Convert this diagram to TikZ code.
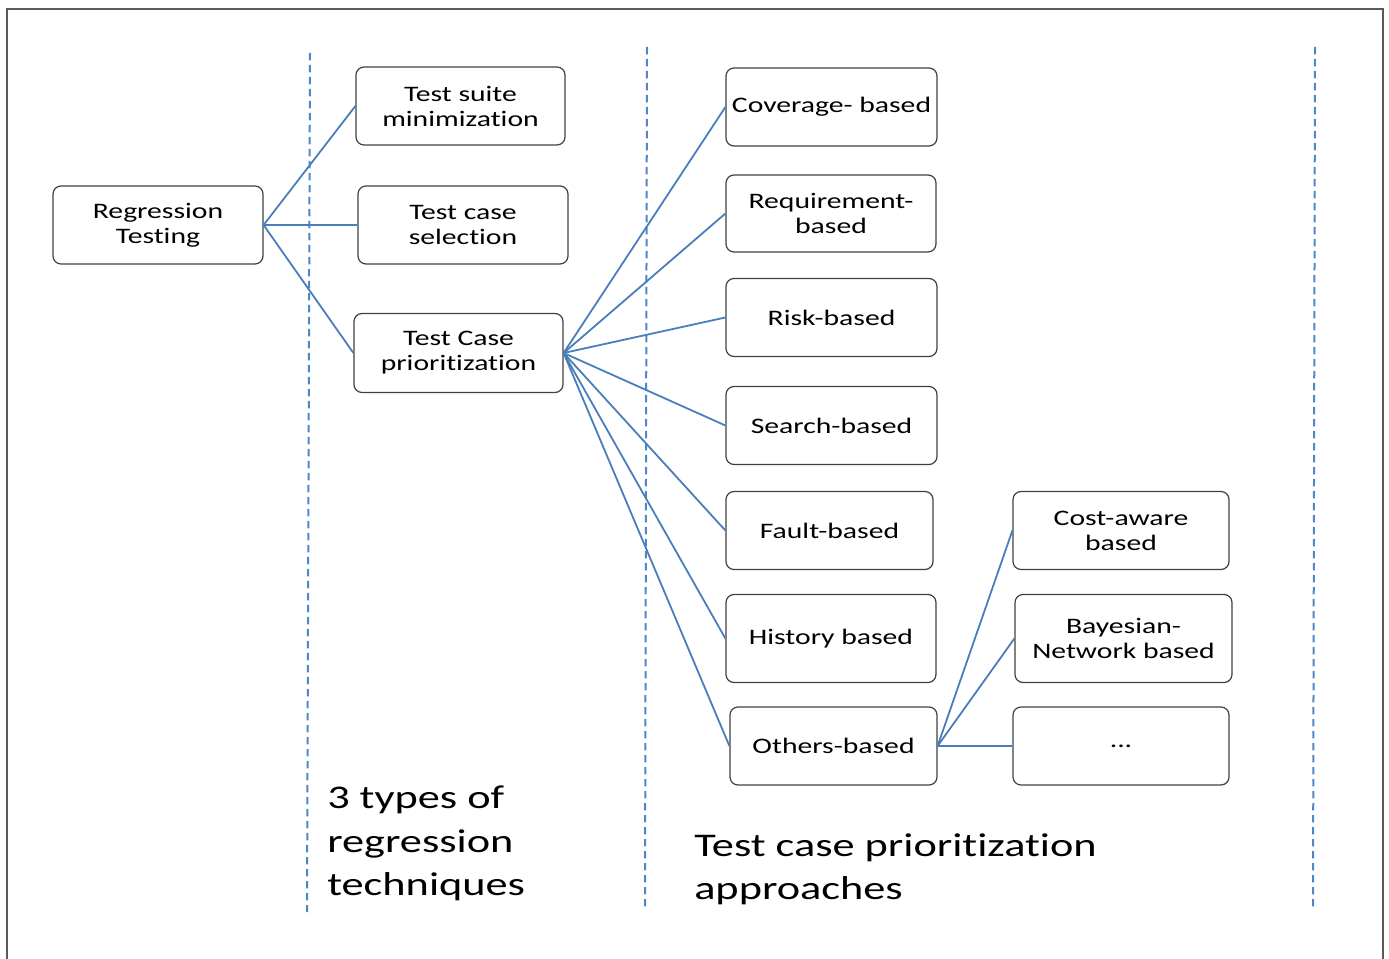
\documentclass[tikz,border=0pt]{standalone}
\usepackage{fontspec}
\setmainfont{Carlito}[FakeStretch=1.34, Ligatures={NoCommon}]
\definecolor{lineblue}{HTML}{4A7EBB}
\definecolor{dashblue}{HTML}{4F86C6}
\definecolor{boxgray}{HTML}{404040}
\definecolor{framegray}{HTML}{5A5A5A}
\begin{document}
\begin{tikzpicture}[x=0.75pt,y=-0.75pt,
  box/.style 2 args={draw=boxgray, line width=0.9pt, rounded corners=6pt, inner sep=0pt,
    minimum width=#1*0.75pt, minimum height=#2*0.75pt, align=center,
    font=\fontsize{16.6}{18.75}\selectfont},
  link/.style={draw=lineblue, line width=1.35pt},
  sep/.style={draw=dashblue, line width=1.5pt, dash pattern=on 5.5pt off 3.5pt},
  bigtext/.style={anchor=north west, inner sep=0pt, align=left,
    font=\fontsize{24.8}{32.3}\selectfont}]
\useasboundingbox (0,0) rectangle (1389,959);
% outer frame
\coordinate (f1) at (7,959);
\coordinate (f2) at (7,9);
\coordinate (f3) at (1383,9);
\coordinate (f4) at (1383,959);
\draw[framegray, line width=1.1pt] (f1) -- (f2) -- (f3) -- (f4);
% separators
\coordinate (d1t) at (310,53);  \coordinate (d1b) at (307,912);
\coordinate (d2t) at (647,47);  \coordinate (d2b) at (645,907);
\coordinate (d3t) at (1315,47); \coordinate (d3b) at (1313,907);
\draw[sep] (d1t) -- (d1b);
\draw[sep] (d2t) -- (d2b);
\draw[sep] (d3t) -- (d3b);
% nodes
\node[box={210}{78}] (rt) at (158,225) {Regression\\Testing};
\node[box={209}{78}] (tsm) at (460.5,106) {Test suite\\minimization};
\node[box={210}{78}] (tcs) at (463,225) {Test case\\selection};
\node[box={209}{79}] (tcp) at (458.5,353) {Test Case\\prioritization};
\node[box={211}{78}] (cov) at (831.5,107) {Coverage- based};
\node[box={210}{77}] (req) at (831,213.5) {Requirement-\\based};
\node[box={211}{78}] (risk) at (831.5,317.5) {Risk-based};
\node[box={211}{78}] (search) at (831.5,425.5) {Search-based};
\node[box={207}{78}] (fault) at (829.5,530.5) {Fault-based};
\node[box={210}{88}] (hist) at (831,638.5) {History based};
\node[box={207}{78}] (others) at (833.5,746) {Others-based};
\node[box={216}{78}] (cost) at (1121,530.5) {Cost-aware\\based};
\node[box={217}{88}] (bayes) at (1123.5,638.5) {Bayesian-\\Network based};
\node[box={216}{78}] (dots) at (1121,746) {\raisebox{-3pt}{...}};
% connectors
\foreach \t in {tsm,tcs,tcp} \draw[link] (rt.east) -- (\t.west);
\foreach \t in {cov,req,risk,search,fault,hist,others} \draw[link] (tcp.east) -- (\t.west);
\foreach \t in {cost,bayes,dots} \draw[link] (others.east) -- (\t.west);
% captions
\node[bigtext] (cap1) at (327,786) {3 types of\\regression\\techniques};
\node[bigtext] (cap2) at (694,833) {Test case prioritization\\approaches};
\end{tikzpicture}
\end{document}
